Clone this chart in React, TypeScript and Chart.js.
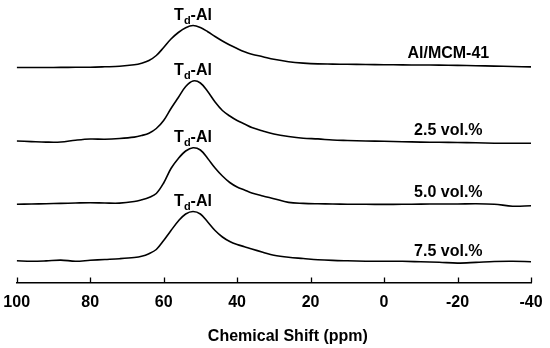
import { useEffect, useRef } from 'react';
import { Chart, registerables } from 'chart.js';

Chart.register(...registerables);

// Chemical shift grid (ppm)
const shiftPpm = [100, 96, 92, 88, 84, 80, 76, 72, 68, 66, 64, 62, 60, 58, 56, 54, 52, 50, 48, 46, 44, 42, 40, 38, 36, 33, 30, 26, 22, 18, 14, 10, 5, 0, -5, -10, -15, -20, -25, -30, -35, -40];

// Intensities (arbitrary units, above each trace's own baseline)
const alMcm41 = [0, 0, 0, 0.1, 0.2, 0.3, 0.7, 1.2, 2.7, 4.3, 7, 12, 20, 28.5, 35, 39.8, 42, 40, 35.8, 31, 26.5, 22.5, 19, 15.8, 13.3, 10.8, 8.2, 5.8, 4.4, 3.6, 3.4, 3.2, 3, 2.8, 2.6, 2.5, 2.4, 2.1, 1.8, 1.4, 1, 0.6];
const vol25 = [1.5, 0.9, 0.4, 0.5, 2.3, 3.5, 3.3, 4, 5.4, 7, 9.3, 14, 22, 34, 45, 56, 61.5, 59.5, 51, 40.5, 32, 26.5, 22, 18.5, 15, 11.5, 8.5, 6, 4.3, 3.6, 2.5, 2, 1.5, 1.2, 0.8, 0.4, 0.2, 0, -0.3, -0.7, -0.8, -0.8];
const vol50 = [0.7, 1, 1.3, 1.6, 2, 2.3, 2, 1.9, 3.5, 5.2, 7.5, 11.5, 22, 36.5, 46.5, 54, 57.3, 55, 46.5, 37, 29, 22.5, 18, 15, 12, 9, 6.3, 2.6, 1.6, 1.2, 1, 0.8, 0.7, 0.6, 0.7, 0.9, 1, 1, 1.3, 0.8, -1.2, -0.8];
const vol75 = [0.8, 0.2, 0.6, 1.4, 0.3, 1.2, 2, 2.8, 4, 5.2, 7.8, 12, 21, 31, 40.5, 47.5, 50, 47.5, 39.5, 31, 24.5, 20, 17, 14.8, 12.5, 9.3, 6.3, 4.2, 3, 1.8, 1.1, 0.7, 0.3, 0.2, 0.2, -0.3, -0.8, -1.6, -0.9, 0, 0.2, -0.2];

const seriesValues = [alMcm41, vol25, vol50, vol75];
const seriesNames = ['Al/MCM-41', '2.5 vol.%', '5.0 vol.%', '7.5 vol.%'];
const stackOffsets = [215, 140, 77.5, 21];
const xTicks = [100, 80, 60, 40, 20, 0, -20, -40];
const axisTitle = 'Chemical Shift (ppm)';
const peakLabelMain = 'T';
const peakLabelSub = 'd';
const peakLabelTail = '-Al';
const sampleLabelPpm = -17.5;

const FONT = '"Liberation Sans", Arial, Helvetica, sans-serif';

function interpAt(vals: number[], ppm: number): number {
  for (let i = 0; i < shiftPpm.length - 1; i++) {
    const a = shiftPpm[i];
    const b = shiftPpm[i + 1];
    if (ppm <= a && ppm >= b) {
      const t = (a - ppm) / (a - b);
      return vals[i] + (vals[i + 1] - vals[i]) * t;
    }
  }
  return vals[vals.length - 1];
}

export default function App() {
  const ref = useRef<HTMLCanvasElement>(null);

  useEffect(() => {
    const canvas = ref.current;
    if (!canvas) return;

    const decor = {
      id: 'nmrDecor',
      afterDraw(chart: any) {
        const { ctx, chartArea, scales } = chart;
        const xs = scales.x;
        const ys = scales.y;
        ctx.save();
        // inward tick marks
        ctx.strokeStyle = '#000';
        ctx.lineWidth = 1.3;
        for (const t of xTicks) {
          const px = Math.round(xs.getPixelForValue(t)) + 0.5;
          ctx.beginPath();
          ctx.moveTo(px, chartArea.bottom);
          ctx.lineTo(px, chartArea.bottom - 5);
          ctx.stroke();
        }
        // axis title
        ctx.fillStyle = '#000';
        ctx.font = `bold 16px ${FONT}`;
        ctx.textAlign = 'center';
        ctx.textBaseline = 'middle';
        ctx.fillText(axisTitle, (chartArea.left + chartArea.right) / 2 + 14, chartArea.bottom + 54);

        seriesValues.forEach((vals, k) => {
          const off = stackOffsets[k];
          let maxI = 0;
          vals.forEach((v, i) => { if (v > vals[maxI]) maxI = i; });
          const cx = xs.getPixelForValue(shiftPpm[maxI]);
          const by = ys.getPixelForValue(off + vals[maxI]) - 6;
          // T_d-Al label
          ctx.textAlign = 'left';
          ctx.textBaseline = 'alphabetic';
          ctx.font = `bold 16px ${FONT}`;
          const wT = ctx.measureText(peakLabelMain).width;
          const wA = ctx.measureText(peakLabelTail).width;
          ctx.font = `bold 11px ${FONT}`;
          const wd = ctx.measureText(peakLabelSub).width;
          let x0 = cx - (wT + wd + wA) / 2;
          ctx.font = `bold 16px ${FONT}`;
          ctx.fillText(peakLabelMain, x0, by);
          x0 += wT;
          ctx.font = `bold 11px ${FONT}`;
          ctx.fillText(peakLabelSub, x0, by + 4);
          x0 += wd;
          ctx.font = `bold 16px ${FONT}`;
          ctx.fillText(peakLabelTail, x0, by);
          // sample label
          const lx = xs.getPixelForValue(sampleLabelPpm);
          const ly = ys.getPixelForValue(off + interpAt(vals, sampleLabelPpm)) - 7;
          ctx.textAlign = 'center';
          ctx.fillText(seriesNames[k], lx, ly);
        });
        ctx.restore();
      },
    };

    const chart = new Chart(canvas, {
      type: 'line',
      data: {
        datasets: seriesValues.map((vals, k) => ({
          label: seriesNames[k],
          data: shiftPpm.map((x, i) => ({ x, y: vals[i] + stackOffsets[k] })),
          borderColor: '#000',
          borderWidth: 1.6,
          pointRadius: 0,
          fill: false,
          tension: 0.35,
        })),
      },
      options: {
        responsive: false,
        animation: false,
        layout: { padding: { left: 16.7, right: 19, top: 0, bottom: 0 } },
        plugins: {
          legend: { display: false },
          tooltip: { enabled: false },
        },
        scales: {
          x: {
            type: 'linear',
            min: -40,
            max: 100,
            reverse: true,
            afterFit: (s: any) => { s.height = 65.5; s.paddingLeft = 0; s.paddingRight = 0; },
            border: { display: true, color: '#000', width: 1.5 },
            grid: { display: true, drawOnChartArea: false, drawTicks: false },
            ticks: {
              stepSize: 20,
              padding: 10,
              color: '#000',
              font: { size: 16, weight: 'bold', family: FONT },
            },
          },
          y: {
            display: false,
            min: 0,
            max: 282.5,
          },
        },
      },
      plugins: [decor],
    });

    return () => chart.destroy();
  }, []);

  return (
    <div style={{ position: 'fixed', left: 0, top: 0, width: 550, height: 348, background: '#fff' }}>
      <canvas ref={ref} width={550} height={348} />
    </div>
  );
}
